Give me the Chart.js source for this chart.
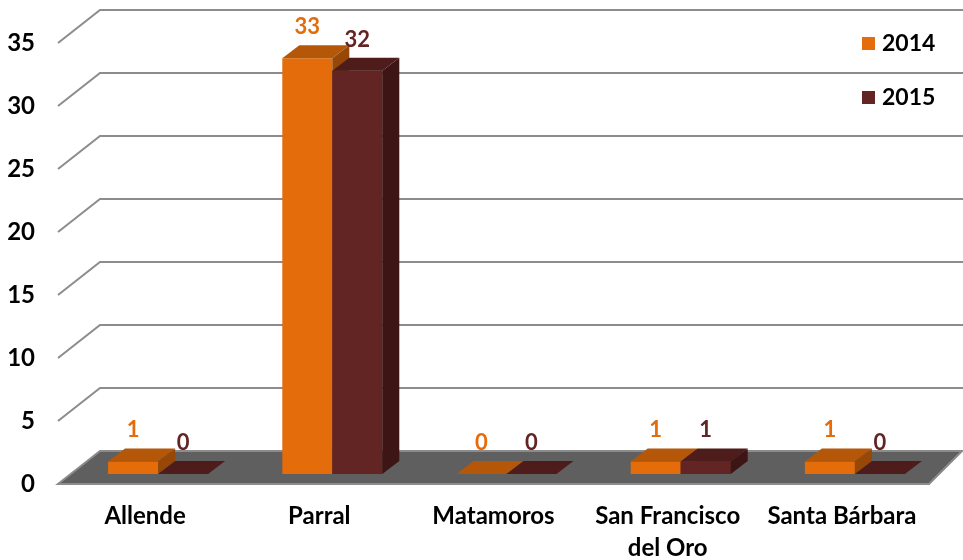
<!DOCTYPE html>
<html>
<head>
<meta charset="utf-8">
<title>Allende, Parral, Matamoros, San Francisco del Oro, Santa Bárbara 2014-2015</title>
<script src="https://cdn.jsdelivr.net/npm/chart.js@4/dist/chart.umd.min.js"></script>
<style>
  html, body { margin: 0; padding: 0; background: #fff; }
</style>
</head>
<body>
<canvas id="myChart" width="963" height="560"></canvas>
<script>
var municipios = ['Allende', 'Parral', 'Matamoros', ['San Francisco', 'del Oro'], 'Santa Bárbara'];
var valores2014 = [1, 33, 0, 1, 1];
var valores2015 = [0, 32, 0, 1, 0];
var yTicks = [0, 5, 10, 15, 20, 25, 30, 35];

var naranja = { front: '#E46C0A', top: '#B45709', side: '#974806' };
var guinda  = { front: '#632523', top: '#4D1C1B', side: '#3C1514' };

// falso 3D
var wallDx = 42, wallDy = 33;   // pared del fondo
var barDx = 13, barDy = 10;     // donde se paran las barras
var depthDx = 17, depthDy = 13; // grosor de cada barra
var fuente = 'Lato, "DejaVu Sans", sans-serif';

var fake3d = {
    id: 'fake3d',
    beforeDatasetsDraw: function (chart) {
        var ctx = chart.ctx, a = chart.chartArea, y = chart.scales.y;
        var y0 = y.getPixelForValue(0);
        ctx.save();
        // piso
        ctx.fillStyle = '#5f5f5f';
        ctx.beginPath();
        ctx.moveTo(a.left, y0);
        ctx.lineTo(a.right, y0);
        ctx.lineTo(chart.width - 1, y0 - wallDy);
        ctx.lineTo(a.left + wallDx, y0 - wallDy);
        ctx.closePath();
        ctx.fill();
        ctx.strokeStyle = '#8c8c8c';
        ctx.lineWidth = 2;
        ctx.stroke();
        // lineas de la cuadricula
        yTicks.forEach(function (v) {
            if (v === 0) return;
            var py = y.getPixelForValue(v);
            ctx.beginPath();
            ctx.moveTo(a.left, py);
            ctx.lineTo(a.left + wallDx, py - wallDy);
            ctx.lineTo(chart.width, py - wallDy);
            ctx.stroke();
        });
        ctx.restore();
    },
    beforeDatasetDraw: function (chart) {
        chart.ctx.save();
        chart.ctx.translate(barDx, -barDy);
    },
    afterDatasetDraw: function (chart) {
        chart.ctx.restore();
    },
    afterDatasetsDraw: function (chart) {
        var ctx = chart.ctx;
        ctx.save();
        ctx.translate(barDx, -barDy);
        // caras de arriba y del lado, serie por serie
        chart.data.datasets.forEach(function (ds, i) {
            var c = i === 0 ? naranja : guinda;
            chart.getDatasetMeta(i).data.forEach(function (bar) {
                var p = bar.getProps(['x', 'y', 'base', 'width'], true);
                var l = p.x - p.width / 2, r = p.x + p.width / 2;
                if (i > 0) bar.draw(ctx);
                ctx.fillStyle = c.top;
                ctx.beginPath();
                ctx.moveTo(l, p.y);
                ctx.lineTo(l + depthDx, p.y - depthDy);
                ctx.lineTo(r + depthDx, p.y - depthDy);
                ctx.lineTo(r, p.y);
                ctx.closePath();
                ctx.fill();
                if (p.base - p.y > 0.5) {
                    ctx.fillStyle = c.side;
                    ctx.beginPath();
                    ctx.moveTo(r, p.y);
                    ctx.lineTo(r + depthDx, p.y - depthDy);
                    ctx.lineTo(r + depthDx, p.base - depthDy);
                    ctx.lineTo(r, p.base);
                    ctx.closePath();
                    ctx.fill();
                }
            });
        });
        // etiquetas de valor
        ctx.font = 'bold 22px ' + fuente;
        ctx.textAlign = 'center';
        ctx.textBaseline = 'middle';
        chart.data.datasets.forEach(function (ds, i) {
            ctx.fillStyle = ds.backgroundColor;
            chart.getDatasetMeta(i).data.forEach(function (bar, j) {
                var p = bar.getProps(['x', 'y'], true);
                ctx.fillText(String(ds.data[j]), p.x, p.y - 31);
            });
        });
        ctx.restore();
    },
    afterDraw: function (chart) {
        var ctx = chart.ctx;
        ctx.save();
        ctx.font = 'bold 23px ' + fuente;
        ctx.textBaseline = 'middle';
        chart.data.datasets.forEach(function (ds, i) {
            var cy = 43 + i * 54;
            ctx.fillStyle = ds.backgroundColor;
            ctx.fillRect(862, cy - 6, 13, 13);
            ctx.fillStyle = '#000';
            ctx.fillText(ds.label, 882, cy + 1);
        });
        ctx.restore();
    }
};

new Chart(document.getElementById('myChart'), {
    type: 'bar',
    data: {
        labels: municipios,
        datasets: [
            { label: '2014', data: valores2014, backgroundColor: naranja.front, clip: false },
            { label: '2015', data: valores2015, backgroundColor: guinda.front, clip: false }
        ]
    },
    options: {
        responsive: false,
        animation: false,
        events: [],
        layout: { padding: { top: 43, right: 34, left: 0, bottom: 0 } },
        datasets: { bar: { categoryPercentage: 0.574, barPercentage: 1.0 } },
        plugins: { legend: { display: false }, tooltip: { enabled: false } },
        scales: {
            x: {
                grid: { display: false, drawTicks: false },
                border: { display: false },
                ticks: { color: '#000', padding: 16, maxRotation: 0, font: { family: fuente, size: 24, weight: 'bold', lineHeight: 1.35 } },
                afterFit: function (s) { s.height = 76; }
            },
            y: {
                min: 0,
                max: 35,
                grid: { display: false, drawTicks: false },
                border: { display: false },
                ticks: { stepSize: 5, color: '#000', padding: 23, font: { family: fuente, size: 24, weight: 'bold' } },
                afterFit: function (s) { s.width = 58; }
            }
        }
    },
    plugins: [fake3d]
});
</script>
</body>
</html>
